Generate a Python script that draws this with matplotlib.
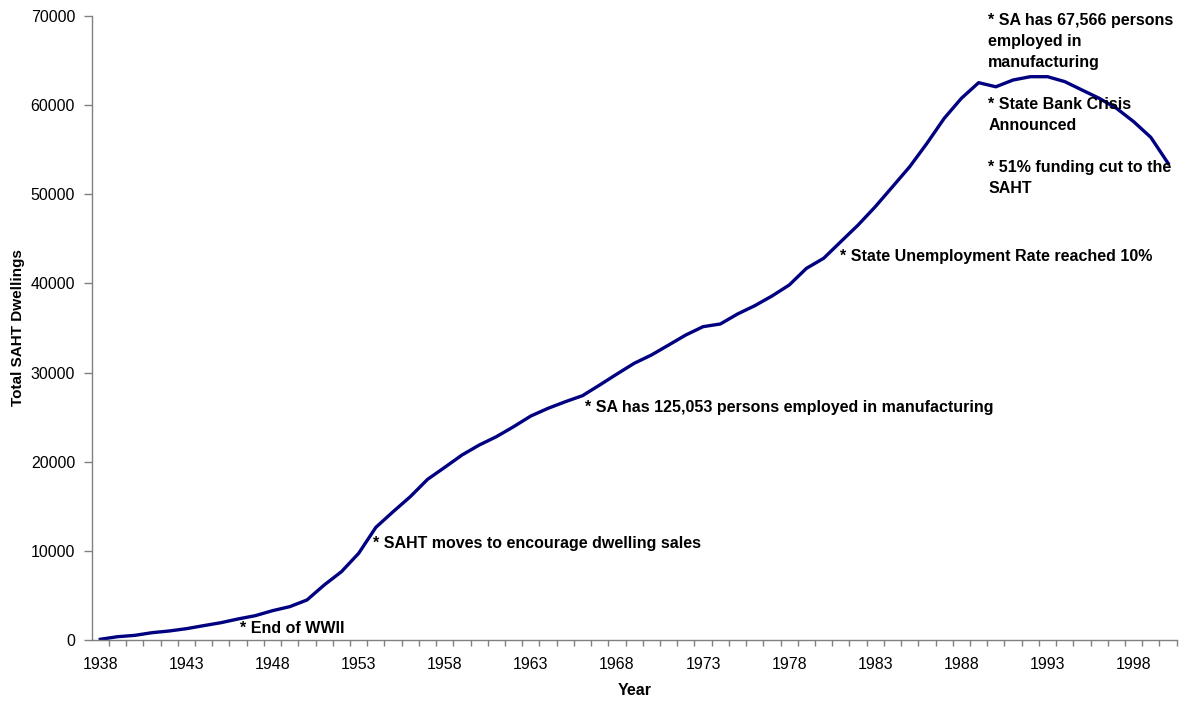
import matplotlib
matplotlib.use("Agg")
import matplotlib.pyplot as plt
from matplotlib.ticker import FixedLocator, MultipleLocator

# total SAHT dwellings by year
years = list(range(1938, 2001))
dwellings = [
    80, 370, 520, 820, 1010, 1270, 1610, 1940, 2360, 2730,
    3290, 3740, 4490, 6170, 7660, 9720, 12640, 14390, 16080, 18020,
    19370, 20750, 21870, 22810, 23930, 25130, 25990, 26730, 27410, 28610,
    29840, 31040, 31970, 33090, 34220, 35150, 35450, 36570, 37500, 38590,
    39820, 41690, 42820, 44690, 46550, 48610, 50850, 53100, 55720, 58520,
    60770, 62520, 62060, 62820, 63190, 63190, 62640, 61700, 60770, 59650,
    58150, 56380, 53480,
]

label_years = years[::5]

# notes: (x, y, text) in data units, left edge / baseline
notes = [
    (1946.1, 820, "* End of WWII"),
    (1953.85, 10290, "* SAHT moves to encourage dwelling sales"),
    (1966.15, 25610, "* SA has 125,053 persons employed in manufacturing"),
    (1980.95, 42550, "* State Unemployment Rate reached 10%"),
    (1989.55, 68990, "* SA has 67,566 persons"),
    (1989.55, 66670, "employed in"),
    (1989.55, 64310, "manufacturing"),
    (1989.55, 59530, "* State Bank Crisis"),
    (1989.55, 57210, "Announced"),
    (1989.55, 52530, "* 51% funding cut to the"),
    (1989.55, 50110, "SAHT"),
]

plt.rcParams['font.family'] = ['Liberation Sans', 'DejaVu Sans']

fig = plt.figure(figsize=(11.93, 7.02), dpi=100)
ax = fig.add_axes([91.7 / 1193, 1 - 640 / 702, 1085 / 1193, 624 / 702])

ax.plot(years, dwellings, color='#000080', linewidth=2.4, solid_joinstyle='round')

ax.set_xlim(years[0] - 0.5, years[-1] + 0.5)
ax.set_ylim(0, 70000)

# category-style x axis: marks between years, labels on every fifth year
ax.xaxis.set_major_locator(FixedLocator(label_years))
ax.xaxis.set_minor_locator(FixedLocator([y + 0.5 for y in years]))
ax.tick_params(axis='x', which='major', length=0, pad=12, labelsize=11.5)
ax.tick_params(axis='x', which='minor', length=4, width=1, color='#808080', direction='out')
ax.yaxis.set_major_locator(MultipleLocator(10000))
ax.tick_params(axis='y', length=6, width=1, color='#808080', pad=6, labelsize=11.5)

for side in ['top', 'right']:
    ax.spines[side].set_visible(False)
for side in ['left', 'bottom']:
    ax.spines[side].set_color('#808080')
    ax.spines[side].set_linewidth(1)

ax.set_xlabel("Year", fontsize=11.5, fontweight='bold', labelpad=8)
ax.set_ylabel("Total SAHT Dwellings", fontsize=11, fontweight='bold')
ax.yaxis.set_label_coords((25 - 91.7) / 1085, 0.5)

for x, y, t in notes:
    ax.text(x, y, t, fontsize=11.5, fontweight='bold', ha='left', va='baseline')

fig.savefig("out.png", dpi=100)
